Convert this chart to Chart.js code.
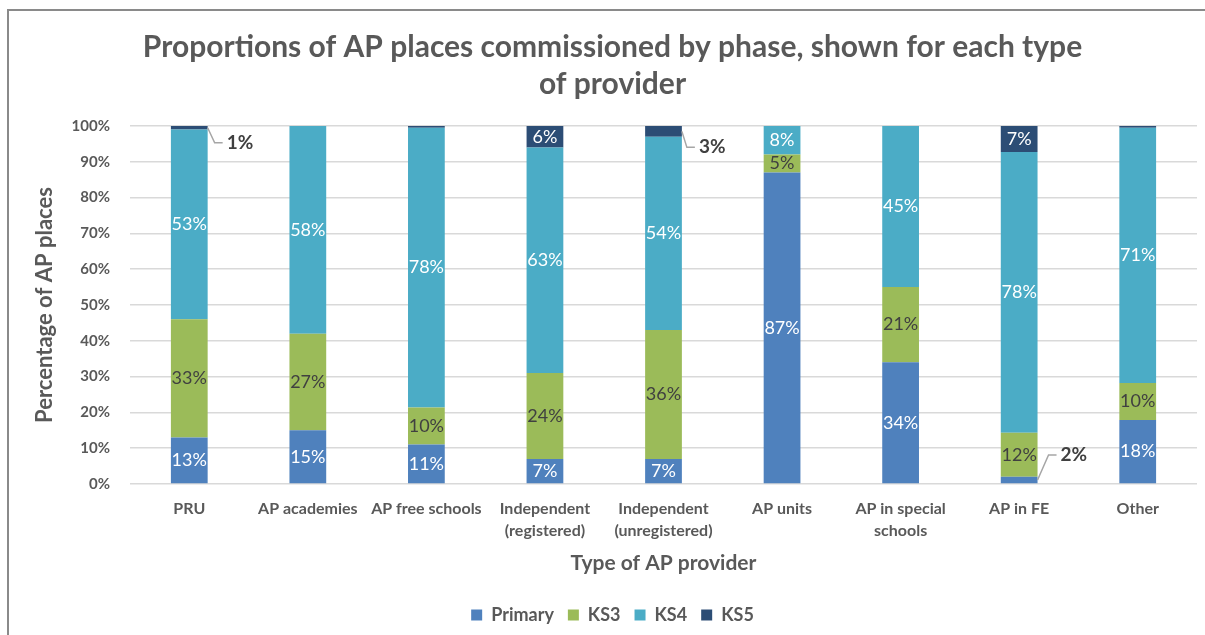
<!DOCTYPE html>
<html lang="en">
<head>
<meta charset="UTF-8">
<title>Proportions of AP places commissioned by phase</title>
<script src="https://cdn.jsdelivr.net/npm/chart.js"></script>
<style>
    html, body { margin: 0; padding: 0; background: #fff; }
    .wrap { position: relative; width: 1205px; height: 635px; overflow: hidden; }
    .frame { position: absolute; left: 7px; top: 9px; width: 1300px; height: 700px;
             border-left: 2px solid #8a8a8a; border-top: 2px solid #8a8a8a; }
    canvas { position: absolute; left: 0; top: 0; }
</style>
</head>
<body>
<div class="wrap">
    <div class="frame"></div>
    <canvas id="apChart" width="1205" height="635"></canvas>
</div>
<script>
    // categories (type of AP provider)
    const providers = [
        'PRU', 'AP academies', 'AP free schools',
        ['Independent', '(registered)'], ['Independent', '(unregistered)'],
        'AP units', ['AP in special', 'schools'], 'AP in FE', 'Other'
    ];

    // share of places by phase, %
    const primary = [13, 15, 11, 7, 7, 87, 34, 2, 17.9];
    const ks3 = [33, 27, 10.4, 24, 36, 5, 21, 12.3, 10.3];
    const ks4 = [53, 58, 78.1, 63, 54, 8, 45, 78.4, 71.3];
    const ks5 = [1, 0, 0.5, 6, 3, 0, 0, 7.3, 0.5];

    const yTicks = [0, 10, 20, 30, 40, 50, 60, 70, 80, 90, 100];

    const FONT = 'Lato, "Open Sans", sans-serif';
    const GREY = '#595959';

    // small segments labelled outside the bar with a leader line
    const callouts = [
        { series: 3, index: 0, elbowX: 7, elbowY: 15, endX: 15 },
        { series: 3, index: 4, elbowX: 5, elbowY: 16, endX: 13 },
        { series: 0, index: 7, elbowX: 11, elbowY: -25, endX: 19 }
    ];

    const valueLabels = {
        id: 'valueLabels',
        afterDatasetsDraw(chart) {
            const ctx = chart.ctx;
            ctx.save();
            chart.data.datasets.forEach((ds, di) => {
                const meta = chart.getDatasetMeta(di);
                meta.data.forEach((bar, i) => {
                    const v = ds.data[i];
                    const txt = Math.round(v) + '%';
                    const c = callouts.find(o => o.series === di && o.index === i);
                    if (c) {
                        const x0 = bar.x + bar.width / 2;
                        const y0 = (bar.y + bar.base) / 2;
                        ctx.strokeStyle = '#a6a6a6';
                        ctx.lineWidth = 1.5;
                        ctx.beginPath();
                        ctx.moveTo(x0, y0);
                        ctx.lineTo(x0 + c.elbowX, y0 + c.elbowY);
                        ctx.lineTo(x0 + c.endX, y0 + c.elbowY);
                        ctx.stroke();
                        ctx.fillStyle = '#404040';
                        ctx.font = 'bold 19px ' + FONT;
                        ctx.textAlign = 'left';
                        ctx.textBaseline = 'middle';
                        ctx.fillText(txt, x0 + c.endX + 4, y0 + c.elbowY);
                    } else if (v >= 4) {
                        ctx.fillStyle = di === 1 ? '#404040' : '#ffffff';
                        ctx.font = '18px ' + FONT;
                        ctx.textAlign = 'center';
                        ctx.textBaseline = 'middle';
                        ctx.fillText(txt, bar.x, (bar.y + bar.base) / 2);
                    }
                });
            });
            ctx.restore();
        }
    };

    const ctx = document.getElementById('apChart').getContext('2d');

    new Chart(ctx, {
        type: 'bar',
        data: {
            labels: providers,
            datasets: [
                { label: 'Primary', data: primary, backgroundColor: '#4f81bd' },
                { label: 'KS3', data: ks3, backgroundColor: '#9bbb59' },
                { label: 'KS4', data: ks4, backgroundColor: '#4bacc6' },
                { label: 'KS5', data: ks5, backgroundColor: '#2c4d75' }
            ]
        },
        options: {
            responsive: false,
            animation: false,
            devicePixelRatio: 1,
            layout: { padding: { left: 28, right: 8, top: 10, bottom: 1 } },
            datasets: {
                bar: { categoryPercentage: 1, barPercentage: 0.31 }
            },
            plugins: {
                tooltip: { enabled: false },
                title: {
                    display: true,
                    text: ['Proportions of AP places commissioned by phase, shown for each type',
                           'of provider'],
                    color: GREY,
                    font: { family: FONT, size: 30, weight: 'bold', lineHeight: 1.233 },
                    padding: { top: 18.5, bottom: 23.5 }
                },
                legend: {
                    position: 'bottom',
                    labels: {
                        boxWidth: 11,
                        boxHeight: 11,
                        padding: 14,
                        color: GREY,
                        font: { family: FONT, size: 18, weight: 'bold' }
                    }
                }
            },
            scales: {
                x: {
                    stacked: true,
                    grid: { display: false, drawTicks: false },
                    border: { display: false },
                    ticks: {
                        color: GREY,
                        maxRotation: 0,
                        autoSkip: false,
                        padding: 14,
                        font: { family: FONT, size: 16, weight: 'bold', lineHeight: 1.375 }
                    },
                    title: {
                        display: true,
                        text: 'Type of AP provider',
                        color: GREY,
                        font: { family: FONT, size: 21, weight: 'bold', lineHeight: 1 },
                        padding: { top: -3, bottom: 18 }
                    }
                },
                y: {
                    stacked: true,
                    min: 0,
                    max: 100,
                    afterBuildTicks: (scale) => {
                        scale.ticks = yTicks.map(v => ({ value: v }));
                    },
                    afterFit: (scale) => {
                        scale.width = 102;
                    },
                    grid: { color: '#d9d9d9', lineWidth: 1.5, drawTicks: false },
                    border: { display: false },
                    ticks: {
                        color: GREY,
                        padding: 20,
                        font: { family: FONT, size: 15, weight: 'bold' },
                        callback: (v) => v + '%'
                    },
                    title: {
                        display: true,
                        text: 'Percentage of AP places',
                        color: GREY,
                        font: { family: FONT, size: 22, weight: 'bold' },
                        padding: { top: 4, bottom: 2 }
                    }
                }
            }
        },
        plugins: [valueLabels]
    });
</script>
</body>
</html>
